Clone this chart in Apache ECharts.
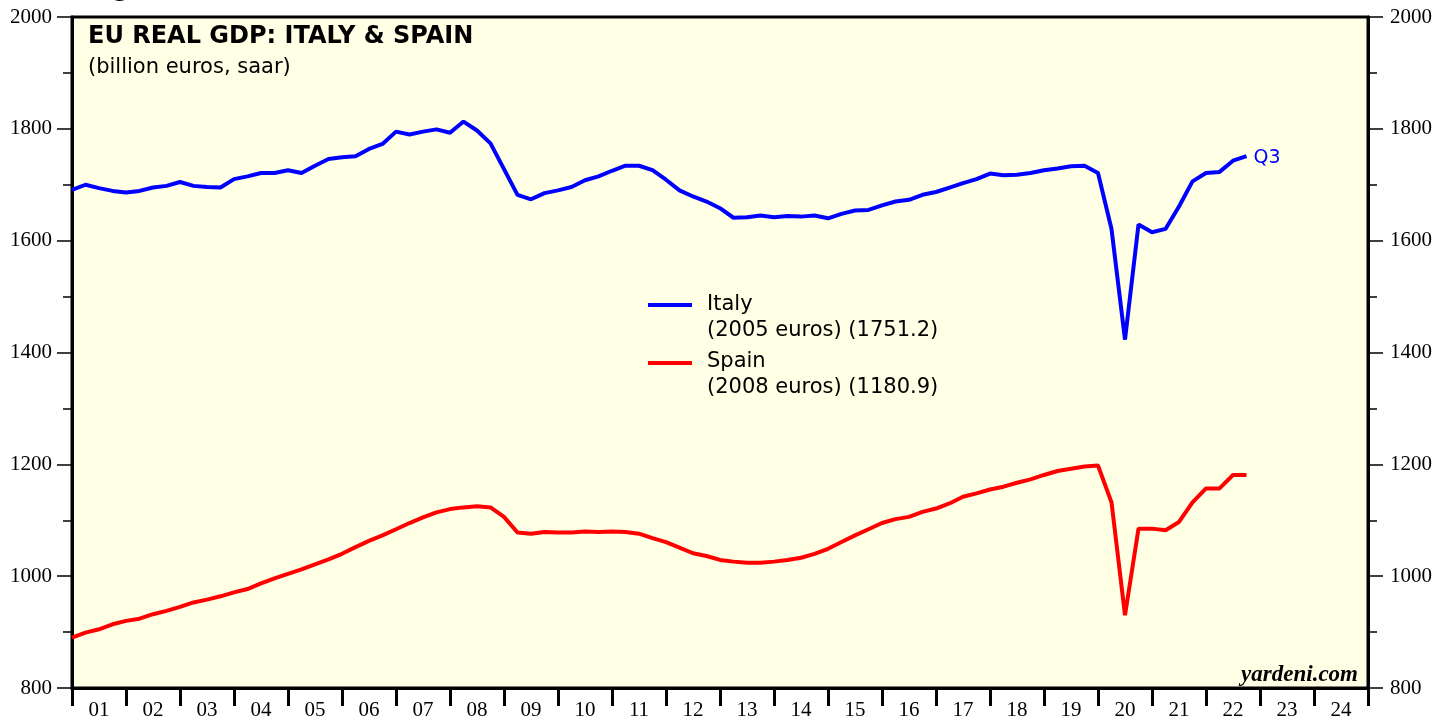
<!DOCTYPE html>
<html>
<head>
<meta charset="utf-8">
<script src="https://cdn.jsdelivr.net/npm/echarts@6/dist/echarts.min.js"></script>
<style>
  html, body { margin: 0; padding: 0; background: #fff; }
  #chart { width: 1450px; height: 721px; }
</style>
</head>
<body>
<div id="chart"></div>
<script>
// year labels on the bottom axis
const years = ['01', '02', '03', '04', '05', '06', '07', '08', '09', '10', '11', '12',
  '13', '14', '15', '16', '17', '18', '19', '20', '21', '22', '23', '24']

// quarterly, 2000Q4 .. 2022Q3 (billion euros, saar)
const italy = [1691, 1700, 1694, 1689, 1686, 1689, 1695, 1698, 1705, 1698, 1696, 1695,
  1710, 1715, 1721, 1721, 1726, 1721, 1734, 1746, 1749, 1751, 1764, 1773,
  1795, 1790, 1795, 1799, 1793, 1813, 1797, 1774, 1728, 1682, 1674, 1685,
  1690, 1696, 1708, 1715, 1725, 1734, 1734, 1726, 1709, 1690, 1679, 1670,
  1658, 1641, 1642, 1645, 1642, 1644, 1643, 1645, 1640, 1648, 1654, 1655,
  1663, 1670, 1673, 1682, 1687, 1695, 1703, 1710, 1720, 1717, 1718, 1721,
  1726, 1729, 1733, 1734, 1721, 1621, 1423, 1629, 1615, 1621, 1661, 1706,
  1721, 1723, 1743, 1751.2]

const spain = [890, 899, 905, 914, 920, 924, 932, 938, 945, 953, 958, 964,
  971, 977, 987, 996, 1004, 1012, 1021, 1030, 1040, 1052, 1063, 1073,
  1084, 1095, 1105, 1114, 1120, 1123, 1125, 1123, 1106, 1078, 1076, 1079,
  1078, 1078, 1080, 1079, 1080, 1079, 1076, 1068, 1061, 1051, 1041, 1036,
  1029, 1026, 1024, 1024, 1026, 1029, 1033, 1040, 1049, 1061, 1073, 1084,
  1095, 1102, 1106, 1115, 1121, 1130, 1142, 1148, 1155, 1160, 1167, 1173,
  1181, 1188, 1192, 1196, 1198, 1132, 930, 1085, 1085, 1082, 1097, 1132,
  1157, 1157, 1181, 1180.9]

const lastQuarter = 'Q3'

// x = quarters since start of 2001 (first point sits on the 01 boundary)
const toPairs = arr => arr.map((v, i) => [i, v])

const serif = 'Liberation Serif'
const sans = 'DejaVu Sans'

const yAxisBase = {
  type: 'value',
  min: 800,
  max: 2000,
  interval: 200,
  axisLine: { show: true, lineStyle: { color: '#000', width: 3 } },
  axisTick: { show: true, length: 15, lineStyle: { color: '#000', width: 1.5 } },
  minorTick: { show: true, splitNumber: 2, length: 9, lineStyle: { color: '#000', width: 1.5 } },
  splitLine: { show: false },
  axisLabel: { color: '#000', fontFamily: serif, fontSize: 21, margin: 20, formatter: v => String(v) }
}

const chart = echarts.init(document.getElementById('chart'))
chart.setOption({
  animation: false,
  grid: {
    left: 72,
    right: 82,
    top: 17,
    bottom: 32,
    show: true,
    backgroundColor: '#ffffe5',
    borderColor: '#000',
    borderWidth: 3
  },
  xAxis: [{
    type: 'value',
    min: 0,
    max: 96,
    show: false
  }, {
    type: 'category',
    position: 'bottom',
    data: years,
    boundaryGap: true,
    axisLine: { show: true, lineStyle: { color: '#000', width: 3 } },
    axisTick: { show: true, length: 18, lineStyle: { color: '#000', width: 3 } },
    axisLabel: { color: '#000', fontFamily: serif, fontSize: 21, margin: 12 },
    splitLine: { show: false }
  }],
  yAxis: [
    Object.assign({}, yAxisBase, { position: 'left' }),
    Object.assign({}, yAxisBase, { position: 'right', axisLabel: Object.assign({}, yAxisBase.axisLabel, { margin: 22 }) })
  ],
  series: [{
    name: 'Italy',
    type: 'line',
    xAxisIndex: 0,
    yAxisIndex: 0,
    data: toPairs(italy),
    showSymbol: false,
    lineStyle: { color: '#0000ff', width: 4 },
    itemStyle: { color: '#0000ff' },
    endLabel: {
      show: true,
      formatter: lastQuarter,
      color: '#0000ff',
      fontFamily: sans,
      fontSize: 19,
      distance: 7,
      offset: [0, 2]
    }
  }, {
    name: 'Spain',
    type: 'line',
    xAxisIndex: 0,
    yAxisIndex: 0,
    data: toPairs(spain),
    showSymbol: false,
    lineStyle: { color: '#ff0000', width: 4 },
    itemStyle: { color: '#ff0000' }
  }],
  graphic: [
    // cut-off figure caption at the very top
    { type: 'text', left: 88, top: -22, style: { text: 'Figure 27.', font: 'bold 24px ' + sans, fill: '#000' } },
    { type: 'text', left: 88, top: 25, style: { text: 'EU REAL GDP: ITALY & SPAIN', font: 'bold 24px ' + sans, fill: '#000' } },
    { type: 'text', left: 88, top: 57, style: { text: '(billion euros, saar)', font: '21px ' + sans, fill: '#000' } },
    // legend
    { type: 'line', shape: { x1: 648, y1: 305, x2: 692, y2: 305 }, style: { stroke: '#0000ff', lineWidth: 4 } },
    { type: 'text', left: 707, top: 292, style: { text: 'Italy\n(2005 euros) (1751.2)', font: '21px ' + sans, fill: '#000', lineHeight: 26 } },
    { type: 'line', shape: { x1: 648, y1: 363, x2: 692, y2: 363 }, style: { stroke: '#ff0000', lineWidth: 4 } },
    { type: 'text', left: 707, top: 349, style: { text: 'Spain\n(2008 euros) (1180.9)', font: '21px ' + sans, fill: '#000', lineHeight: 26 } },
    // source
    { type: 'text', right: 92, top: 664, style: { text: 'yardeni.com', font: 'italic bold 23px ' + serif, fill: '#000' } }
  ]
})
</script>
</body>
</html>
